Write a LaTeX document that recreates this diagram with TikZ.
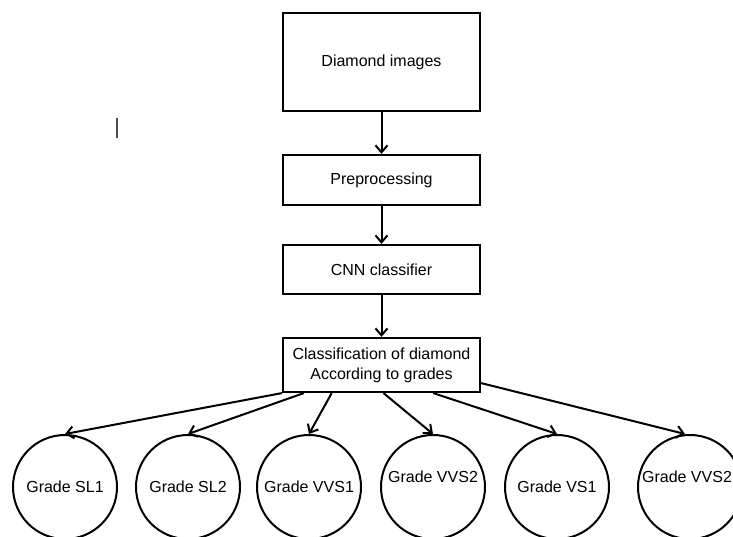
\documentclass[tikz,border=0pt]{standalone}
\usepackage{fontspec}
\setmainfont{Liberation Sans}
\usepackage{tikz}
\usetikzlibrary{positioning, arrows.meta, calc}

\begin{document}
\begin{tikzpicture}[
			x=1pt, y=-1pt,
			font=\fontsize{16}{20}\selectfont,
			% Styles
			stage/.style={rectangle, draw, line width=2.2pt, fill=white, minimum width=197pt, align=center, inner sep=2pt},
			grade/.style={circle, draw, line width=2pt, minimum size=104pt, inner sep=0pt},
			flow/.style={-{Straight Barb[length=7pt, width=12pt, line width=2pt]}, line width=2pt}
			]
			\useasboundingbox (0,0) rectangle (733,537);
			
			% --- 1. Pipeline boxes ---
			\node[stage, minimum height=98pt] (img) at (381.5,62) {Diamond images};
			\node[stage, minimum height=50pt] (pre) at (381.5,180) {Preprocessing};
			\node[stage, minimum height=49pt] (cnn) at (381.5,269.5) {CNN classifier};
			\node[stage, minimum height=54pt] (cls) at (381.5,365) {Classification of diamond\\According to grades};
			
			\draw[flow] (img) -- (pre);
			\draw[flow] (pre) -- (cnn);
			\draw[flow] (cnn) -- (cls);
			
			% --- 2. Grade circles ---
			\node[grade] (g1) at (65,487) {Grade SL1};
			\node[grade] (g2) at (188,487) {Grade SL2};
			\node[grade] (g3) at (309,487) {Grade VVS1};
			\node[grade] (g4) at (433,487) {\raisebox{20pt}{Grade VVS2}};
			\node[grade] (g5) at (557,487) {Grade VS1};
			\node[grade] (g6) at (690,487) {\hspace{-6pt}\raisebox{20pt}{Grade VVS2}};
			
			% Connections cls -> grades
			\draw[flow] (cls.south west) -- (g1.north);
			\draw[flow] ($(cls.south west)!0.11!(cls.south east)$) -- (g2.north);
			\draw[flow] ($(cls.south west)!0.25!(cls.south east)$) -- (g3.north);
			\draw[flow] ($(cls.south west)!0.51!(cls.south east)$) -- (g4.north);
			\draw[flow] ($(cls.south west)!0.76!(cls.south east)$) -- (g5.north);
			\draw[flow] ([yshift=10pt]cls.south east) -- ([xshift=-5pt]g6.north);
			
			% stray mark
			\draw[gray!60!black, line width=1.2pt] (117,118) -- (117,138);
			
		\end{tikzpicture}
\end{document}
